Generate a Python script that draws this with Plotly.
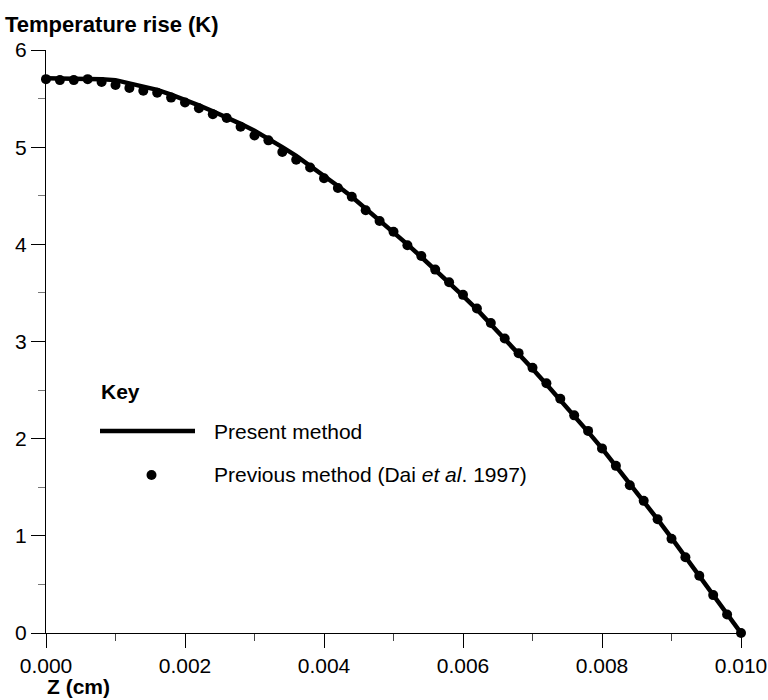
import plotly.graph_objects as go

# ---- data ----
z_cm = [0.0000, 0.0002, 0.0004, 0.0006, 0.0008, 0.0010, 0.0012, 0.0014, 0.0016, 0.0018,
        0.0020, 0.0022, 0.0024, 0.0026, 0.0028, 0.0030, 0.0032, 0.0034, 0.0036, 0.0038,
        0.0040, 0.0042, 0.0044, 0.0046, 0.0048, 0.0050, 0.0052, 0.0054, 0.0056, 0.0058,
        0.0060, 0.0062, 0.0064, 0.0066, 0.0068, 0.0070, 0.0072, 0.0074, 0.0076, 0.0078,
        0.0080, 0.0082, 0.0084, 0.0086, 0.0088, 0.0090, 0.0092, 0.0094, 0.0096, 0.0098,
        0.0100]

present_method = [5.71, 5.71, 5.71, 5.71, 5.70, 5.69, 5.66, 5.63, 5.59, 5.54,
                  5.49, 5.43, 5.37, 5.31, 5.24, 5.17, 5.09, 5.00, 4.91, 4.81,
                  4.71, 4.60, 4.49, 4.37, 4.25, 4.13, 4.00, 3.87, 3.74, 3.61,
                  3.47, 3.33, 3.18, 3.03, 2.88, 2.72, 2.56, 2.40, 2.24, 2.07,
                  1.90, 1.72, 1.54, 1.36, 1.17, 0.98, 0.78, 0.59, 0.39, 0.20,
                  0.00]

previous_method = [5.70, 5.69, 5.69, 5.70, 5.67, 5.64, 5.61, 5.58, 5.56, 5.51,
                   5.46, 5.40, 5.34, 5.30, 5.21, 5.12, 5.07, 4.95, 4.87, 4.79,
                   4.68, 4.58, 4.49, 4.35, 4.24, 4.13, 3.99, 3.88, 3.74, 3.61,
                   3.48, 3.34, 3.19, 3.03, 2.88, 2.73, 2.57, 2.41, 2.24, 2.08,
                   1.90, 1.72, 1.52, 1.36, 1.17, 0.97, 0.78, 0.59, 0.39, 0.19,
                   0.00]

x_tick_vals = [0.000, 0.002, 0.004, 0.006, 0.008, 0.010]
y_tick_vals = [0, 1, 2, 3, 4, 5, 6]

FONT = "Arial, Liberation Sans, sans-serif"
FS = 21

fig = go.Figure()
fig.add_trace(go.Scatter(x=z_cm, y=present_method, mode="lines",
                         line=dict(color="black", width=4.5),
                         name="Present method", cliponaxis=False, showlegend=False))
fig.add_trace(go.Scatter(x=z_cm, y=previous_method, mode="markers",
                         marker=dict(color="black", size=10),
                         name="Previous method (Dai et al. 1997)", cliponaxis=False,
                         showlegend=False))

axis_common = dict(showline=True, linecolor="black", linewidth=1.2,
                   ticks="outside", ticklen=14, tickwidth=1.2, tickcolor="black",
                   showgrid=False, zeroline=False, automargin=False,
                   tickfont=dict(family=FONT, size=FS, color="black"))

fig.update_xaxes(range=[0, 0.010], tickvals=x_tick_vals, tickformat=".3f",
                 minor=dict(dtick=0.001, ticks="outside", ticklen=7, tickwidth=1.2,
                            tickcolor="#444"),
                 **axis_common)
fig.update_yaxes(range=[0, 6], tickvals=y_tick_vals,
                 minor=dict(dtick=0.5, ticks="outside", ticklen=7, tickwidth=1.2,
                            tickcolor="#777"),
                 **axis_common)

W, H = 768, 700
L, R, T, B = 46, 27, 50, 67
pw, ph = W - L - R, H - T - B

def px(x):
    return (x - L) / pw

def py(y):
    return (H - B - y) / ph

annotations = [
    dict(text="<b>Temperature rise (K)</b>", x=px(3), y=py(24), xanchor="left", yanchor="middle",
         font=dict(family=FONT, size=22, color="black")),
    dict(text="<b>Z (cm)</b>", x=px(45), y=py(700), xanchor="left", yanchor="bottom",
         font=dict(family=FONT, size=FS, color="black")),
    dict(text="<b>Key</b>", x=px(99), y=py(391), xanchor="left", yanchor="middle",
         font=dict(family=FONT, size=FS, color="black")),
    dict(text="Present method", x=px(212), y=py(431), xanchor="left", yanchor="middle",
         font=dict(family=FONT, size=FS, color="black")),
    dict(text="Previous method (Dai <i>et al</i>. 1997)", x=px(212), y=py(475),
         xanchor="left", yanchor="middle",
         font=dict(family=FONT, size=FS, color="black")),
]
for a in annotations:
    a.update(xref="paper", yref="paper", showarrow=False)

r = 5
shapes = [
    dict(type="line", xref="paper", yref="paper", x0=px(100), x1=px(195),
         y0=py(431), y1=py(431), line=dict(color="black", width=4.5)),
    dict(type="circle", xref="paper", yref="paper", x0=px(151.5 - r), x1=px(151.5 + r),
         y0=py(475 + r), y1=py(475 - r), fillcolor="black", line=dict(color="black", width=0)),
]

fig.update_layout(width=W, height=H, margin=dict(l=L, r=R, t=T, b=B),
                  plot_bgcolor="white", paper_bgcolor="white",
                  annotations=annotations, shapes=shapes,
                  font=dict(family=FONT, size=FS, color="black"))

fig.write_html("out.html")
